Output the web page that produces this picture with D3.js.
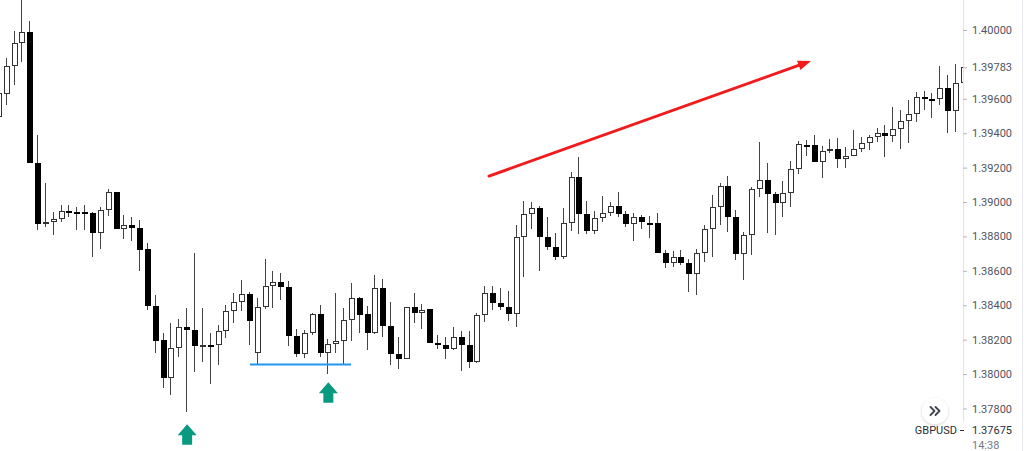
<!DOCTYPE html>
<html>
<head>
<meta charset="utf-8">
<script src="https://cdn.jsdelivr.net/npm/d3@7"></script>
<style>
  html, body { margin: 0; padding: 0; background: #fff; }
  svg { display: block; }
  text { font-family: Roboto, "Noto Sans", sans-serif; }
</style>
</head>
<body>
<svg id="chart" width="1024" height="451"></svg>
<script>
// ---- data (GBPUSD) ----
const symbol = "GBPUSD";
const lastTime = "14:38";
const opens = [1.39494,1.39628,1.39791,1.39924,1.39988,1.39227,1.38872,1.38884,1.38901,1.38948,
  1.38942,1.38942,1.38936,1.38820,1.38953,1.39058,1.38843,1.38866,1.38849,1.38727,
  1.38395,1.38198,1.37977,1.38151,1.38273,1.38256,1.38163,1.38169,1.38169,1.38250,
  1.38366,1.38419,1.38465,1.38122,1.38390,1.38512,1.38535,1.38506,1.38221,1.38116,
  1.38238,1.38349,1.38122,1.38174,1.38192,1.38314,1.38442,1.38349,1.38238,1.38500,
  1.38279,1.38116,1.38087,1.38390,1.38355,1.38378,1.38180,1.38169,1.38145,1.38215,
  1.38169,1.38070,1.38343,1.38471,1.38413,1.38390,1.38349,1.38797,1.38930,1.38965,
  1.38797,1.38738,1.38680,1.38878,1.39145,1.38930,1.38831,1.38907,1.38936,1.38977,
  1.38930,1.38872,1.38913,1.38878,1.38878,1.38703,1.38645,1.38680,1.38645,1.38581,
  1.38703,1.38843,1.38971,1.39093,1.38913,1.38698,1.38808,1.39076,1.39128,1.39047,
  1.38994,1.39052,1.39192,1.39331,1.39331,1.39233,1.39297,1.39308,1.39250,1.39267,
  1.39308,1.39343,1.39378,1.39401,1.39384,1.39424,1.39471,1.39512,1.39610,1.39599,
  1.39599,1.39663,1.39529,1.39692];
const highs = [1.39680,1.39837,1.39994,1.40180,1.40052,1.39390,1.39110,1.38942,1.38983,1.38983,
  1.38971,1.38983,1.38940,1.38971,1.39076,1.39058,1.38924,1.38913,1.38895,1.38762,
  1.38459,1.38238,1.38297,1.38320,1.38384,1.38703,1.38384,1.38238,1.38285,1.38401,
  1.38471,1.38547,1.38477,1.38442,1.38669,1.38599,1.38587,1.38541,1.38262,1.38256,
  1.38355,1.38401,1.38203,1.38471,1.38384,1.38529,1.38448,1.38395,1.38576,1.38552,
  1.38419,1.38215,1.38390,1.38471,1.38407,1.38378,1.38227,1.38215,1.38273,1.38250,
  1.38250,1.38355,1.38512,1.38512,1.38500,1.38483,1.38866,1.39006,1.39000,1.38977,
  1.38913,1.38820,1.38965,1.39174,1.39262,1.39006,1.38948,1.39035,1.39000,1.39058,
  1.38948,1.38936,1.38924,1.38919,1.38936,1.38721,1.38715,1.38721,1.38669,1.38727,
  1.38866,1.39041,1.39110,1.39151,1.38953,1.38826,1.39087,1.39349,1.39227,1.39058,
  1.39122,1.39238,1.39355,1.39360,1.39390,1.39326,1.39366,1.39372,1.39320,1.39419,
  1.39378,1.39390,1.39430,1.39448,1.39552,1.39535,1.39593,1.39640,1.39645,1.39634,
  1.39791,1.39738,1.39802,1.39785];
const lows = [1.39477,1.39564,1.39680,1.39814,1.39227,1.38837,1.38855,1.38808,1.38884,1.38913,
  1.38837,1.38837,1.38680,1.38727,1.38919,1.38843,1.38785,1.38773,1.38599,1.38372,
  1.38122,1.37919,1.37878,1.38099,1.37779,1.38012,1.38070,1.37942,1.38052,1.38209,
  1.38297,1.38366,1.38169,1.38058,1.38378,1.38384,1.38430,1.38163,1.38099,1.38093,
  1.38227,1.38099,1.38000,1.38122,1.38058,1.38192,1.38238,1.38140,1.38233,1.38215,
  1.38052,1.38029,1.38087,1.38297,1.38262,1.38180,1.38145,1.38087,1.38140,1.38017,
  1.38035,1.38064,1.38302,1.38372,1.38372,1.38308,1.38273,1.38564,1.38843,1.38599,
  1.38721,1.38663,1.38669,1.38831,1.38814,1.38814,1.38814,1.38884,1.38919,1.38913,
  1.38855,1.38773,1.38843,1.38791,1.38703,1.38616,1.38622,1.38634,1.38477,1.38459,
  1.38651,1.38680,1.38866,1.38826,1.38663,1.38547,1.38692,1.39029,1.38820,1.38808,
  1.38913,1.38971,1.39163,1.39267,1.39233,1.39140,1.39285,1.39198,1.39198,1.39267,
  1.39291,1.39302,1.39349,1.39262,1.39349,1.39308,1.39343,1.39465,1.39535,1.39488,
  1.39564,1.39401,1.39407,1.39692];
const closes = [1.39634,1.39791,1.39924,1.39988,1.39227,1.38872,1.38884,1.38901,1.38948,1.38936,
  1.38936,1.38936,1.38820,1.38953,1.39058,1.38843,1.38866,1.38849,1.38721,1.38395,
  1.38192,1.37977,1.38151,1.38273,1.38256,1.38163,1.38169,1.38163,1.38250,1.38366,
  1.38419,1.38465,1.38308,1.38390,1.38512,1.38535,1.38506,1.38221,1.38116,1.38238,
  1.38349,1.38122,1.38174,1.38192,1.38314,1.38442,1.38343,1.38238,1.38500,1.38279,
  1.38116,1.38087,1.38390,1.38355,1.38372,1.38180,1.38169,1.38145,1.38215,1.38169,
  1.38070,1.38343,1.38471,1.38413,1.38390,1.38349,1.38797,1.38930,1.38965,1.38797,
  1.38738,1.38680,1.38878,1.39145,1.38930,1.38831,1.38907,1.38936,1.38977,1.38930,
  1.38872,1.38913,1.38884,1.38876,1.38703,1.38645,1.38680,1.38645,1.38581,1.38703,
  1.38843,1.38971,1.39093,1.38913,1.38698,1.38808,1.39076,1.39128,1.39047,1.38994,
  1.39052,1.39192,1.39337,1.39326,1.39233,1.39297,1.39308,1.39250,1.39267,1.39308,
  1.39343,1.39378,1.39401,1.39384,1.39424,1.39471,1.39512,1.39610,1.39599,1.39599,
  1.39663,1.39529,1.39692,1.39783];
const tickLabels = ["1.37800","1.38000","1.38200","1.38400","1.38600","1.38800",
  "1.39000","1.39200","1.39400","1.39600","1.39783","1.40000"];
const lowPriceLabel = 1.37675;
// annotations: [bar index, price]
const redArrow = [[62.48, 1.39151], [103.52, 1.39820]];
const supportLine = [[32.0, 1.38058], [44.9, 1.38058]];
const upArrowBars = [24, 42];
const upArrowTips = [1.37709, 1.37953];

// ---- build ----
const W = 1024, H = 451, paneRight = 963;
const svg = d3.select("#chart");
const n = opens.length;
const x = d3.scaleLinear().domain([0, n - 1]).range([-1.15, 963.8]);
const y = d3.scaleLinear().domain([lowPriceLabel, 1.40000]).range([430, 30]);

const bars = d3.range(n).map(i => ({i, o: opens[i], h: highs[i], l: lows[i], c: closes[i]}));

svg.append("defs").append("clipPath").attr("id", "pane")
  .append("rect").attr("x", 0).attr("y", 0).attr("width", paneRight).attr("height", H);
const shadow = svg.select("defs").append("filter").attr("id", "sh")
  .attr("x", "-50%").attr("y", "-50%").attr("width", "200%").attr("height", "200%");
shadow.append("feDropShadow").attr("dx", 0).attr("dy", 1).attr("stdDeviation", 1.5)
  .attr("flood-color", "#000").attr("flood-opacity", 0.18);

const pane = svg.append("g").attr("clip-path", "url(#pane)");
const bw = 6;
const g = pane.selectAll("g.bar").data(bars).join("g").attr("class", "bar");
g.each(function(d) {
  const sel = d3.select(this);
  const left = Math.round(x(d.i) - bw / 2);
  const up = d.c > d.o;
  const top = Math.round(y(Math.max(d.o, d.c)));
  const bot = Math.round(y(Math.min(d.o, d.c)));
  sel.append("line")
    .attr("x1", left + 2.5).attr("x2", left + 2.5)
    .attr("y1", Math.round(y(d.h))).attr("y2", Math.round(y(d.l)))
    .attr("stroke", "#444").attr("stroke-width", 1);
  if (up) {
    sel.append("rect").attr("x", left + 0.5).attr("y", top + 0.5)
      .attr("width", bw - 1).attr("height", Math.max(1, bot - top - 1))
      .attr("fill", "#fff").attr("stroke", "#333").attr("stroke-width", 1);
  } else {
    sel.append("rect").attr("x", left).attr("y", top)
      .attr("width", bw).attr("height", Math.max(2, bot - top))
      .attr("fill", "#000");
  }
});

// support line
pane.append("line")
  .attr("x1", x(supportLine[0][0])).attr("x2", x(supportLine[1][0]))
  .attr("y1", Math.round(y(supportLine[0][1])) + 0.5).attr("y2", Math.round(y(supportLine[1][1])) + 0.5)
  .attr("stroke", "#2196f3").attr("stroke-width", 2);

// red trend arrow
(function() {
  const x1 = x(redArrow[0][0]), y1 = y(redArrow[0][1]);
  const x2 = x(redArrow[1][0]), y2 = y(redArrow[1][1]);
  const ang = Math.atan2(y2 - y1, x2 - x1);
  const L = 13, Wd = 5;
  const bx = x2 - L * Math.cos(ang), by = y2 - L * Math.sin(ang);
  pane.append("line").attr("x1", x1).attr("y1", y1).attr("x2", bx + 2 * Math.cos(ang)).attr("y2", by + 2 * Math.sin(ang))
    .attr("stroke", "#f21b1b").attr("stroke-width", 3).attr("stroke-linecap", "round");
  const px = -Math.sin(ang), py = Math.cos(ang);
  pane.append("path")
    .attr("d", `M${x2},${y2}L${bx + Wd * px},${by + Wd * py}L${bx - Wd * px},${by - Wd * py}Z`)
    .attr("fill", "#f21b1b");
})();

// green up arrows
upArrowBars.forEach((b, k) => {
  const cx = x(b), ty = y(upArrowTips[k]);
  const hw = 9.5, hh = 11, sw = 5, tot = 20.5;
  pane.append("path")
    .attr("d", `M${cx},${ty}L${cx + hw},${ty + hh}L${cx + sw},${ty + hh}L${cx + sw},${ty + tot}L${cx - sw},${ty + tot}L${cx - sw},${ty + hh}L${cx - hw},${ty + hh}Z`)
    .attr("fill", "#089981");
});

// price axis
svg.append("line").attr("x1", paneRight + 0.5).attr("x2", paneRight + 0.5)
  .attr("y1", 0).attr("y2", 422).attr("stroke", "#e0e3eb");
svg.append("line").attr("x1", 1022.5).attr("x2", 1022.5)
  .attr("y1", 0).attr("y2", H).attr("stroke", "#e6e8ee");

const axis = d3.axisRight(y)
  .tickValues(tickLabels.map(Number))
  .tickFormat(d3.format(".5f"))
  .tickSize(4).tickPadding(5);
const ax = svg.append("g").attr("transform", `translate(${paneRight},0)`).call(axis);
ax.select(".domain").remove();
ax.selectAll(".tick line").attr("stroke", "#b2b5be");
ax.selectAll(".tick text").attr("fill", "#50535e").attr("font-size", 11)
  .attr("font-family", "Roboto, 'Noto Sans', sans-serif");

// symbol / last label
const yl = Math.round(y(lowPriceLabel));
svg.append("text").attr("x", 957).attr("y", yl).attr("dy", "0.35em")
  .attr("text-anchor", "end").attr("font-size", 11).attr("fill", "#2a2e39").text(symbol);
svg.append("line").attr("x1", 960).attr("x2", 964).attr("y1", yl + 0.5).attr("y2", yl + 0.5)
  .attr("stroke", "#2a2e39");
svg.append("text").attr("x", 972).attr("y", yl).attr("dy", "0.35em")
  .attr("font-size", 11).attr("fill", "#2a2e39").text(d3.format(".5f")(lowPriceLabel));
svg.append("text").attr("x", 972).attr("y", yl + 15).attr("dy", "0.35em")
  .attr("font-size", 11).attr("fill", "#787b86").text(lastTime);

// scroll button
const btn = svg.append("g").attr("transform", "translate(935,411)");
btn.append("circle").attr("r", 13).attr("fill", "#fff").attr("filter", "url(#sh)");
btn.append("path").attr("d", "M-4.5,-4L-0.5,0L-4.5,4M0.5,-4L4.5,0L0.5,4")
  .attr("fill", "none").attr("stroke", "#434651").attr("stroke-width", 1.8)
  .attr("stroke-linecap", "round").attr("stroke-linejoin", "round");
</script>
</body>
</html>
